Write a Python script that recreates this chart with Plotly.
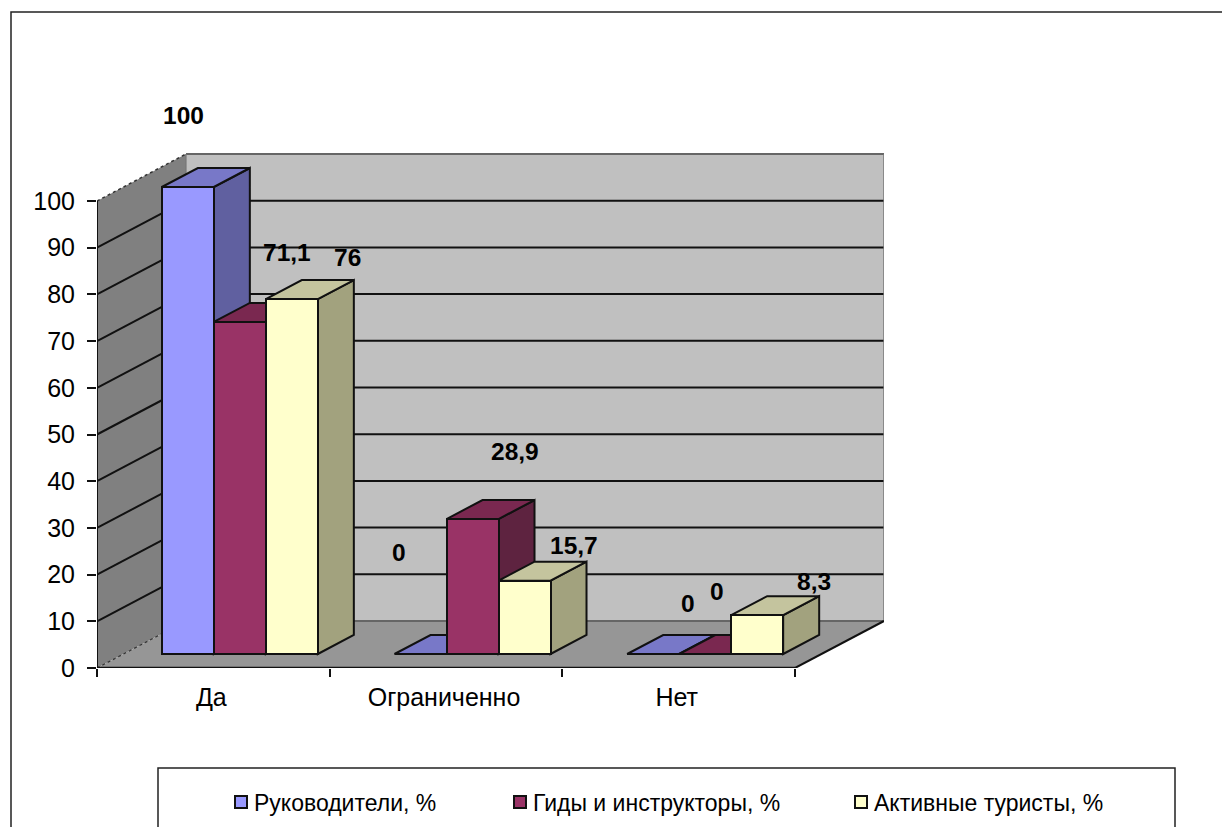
import plotly.graph_objects as go

categories = ["Да", "Ограниченно", "Нет"]
series_names = ["Руководители, %", "Гиды и инструкторы, %", "Активные туристы, %"]
rukovoditeli = [100, 0, 0]
gidy = [71.1, 28.9, 0]
turisty = [76, 15.7, 8.3]
y_ticks = [0, 10, 20, 30, 40, 50, 60, 70, 80, 90, 100]
label_texts = [["100", "0", "0"], ["71,1", "28,9", "0"], ["76", "15,7", "8,3"]]

series_values = [rukovoditeli, gidy, turisty]
front_colors = ["#9999FF", "#993366", "#FFFFCC"]
top_colors = ["#7878C8", "#7A2850", "#C4C49E"]
side_colors = ["#6060A0", "#5E2340", "#A2A27E"]
# pixel nudges of each value label relative to the bar's top front centre
label_shifts = [[(-4, 72), (-22, 102), (35, 51)],
                [(47, 69), (42, 68), (12, 63)],
                [(56, 42), (49, 35), (57, 34)]]

W, H = 1222, 827
L, R, T, B = 97, 884, 153, 668
CAT_PX = 232.67
PX_PER_UNIT = 4.67
x_max = (R - L) / CAT_PX
y_max = (B - T) / PX_PER_UNIT

DX = (R - 795) / CAT_PX          # wall depth in x units
DY = 47 / PX_PER_UNIT            # wall depth in value units
BAR_W = 52 / CAT_PX
BAR_DX = 36 / CAT_PX
BAR_DY = 19 / PX_PER_UNIT
SHIFT_X = 26.5 / CAT_PX          # bar front plane inside the floor
FLOOR = 14 / PX_PER_UNIT
LABEL_NUDGE = -2 / CAT_PX        # category labels sit slightly left of centre


def px(xp):
    return (xp - L) / (R - L)


def py(yp):
    return (B - yp) / (B - T)


def poly(pts, fill, line="rgba(0,0,0,0)", width=0, layer="below"):
    d = "M" + " L".join(f"{a:.4f},{b:.4f}" for a, b in pts) + " Z"
    return dict(type="path", path=d, xref="x", yref="y", fillcolor=fill,
                line=dict(color=line, width=width), layer=layer)


def seg(x0, y0, x1, y1, color="#111111", width=2, dash="solid", xref="x", yref="y"):
    return dict(type="line", x0=x0, y0=y0, x1=x1, y1=y1, xref=xref, yref=yref,
                line=dict(color=color, width=width, dash=dash), layer="below")


shapes = []
# walls and floor
shapes.append(poly([(DX, DY), (3 + DX, DY), (3 + DX, 100 + DY), (DX, 100 + DY)], "#C0C0C0"))
shapes.append(poly([(0, 0), (DX, DY), (DX, 100 + DY), (0, 100)], "#808080"))
shapes.append(poly([(0, 0), (3, 0), (3 + DX, DY), (DX, DY)], "#969696"))
# gridlines
for t in y_ticks:
    if t == 0:
        continue
    if t == 100:
        shapes.append(seg(0, t, DX, t + DY, "#333333", 1.5, "dot"))
        shapes.append(seg(DX, t + DY, 3 + DX, t + DY, "#666666", 2))
    else:
        shapes.append(seg(0, t, DX, t + DY))
        shapes.append(seg(DX, t + DY, 3 + DX, t + DY))
shapes.append(seg(0, 0, DX, DY, "#333333", 1.2, "dot"))
shapes.append(seg(DX, DY, 3 + DX, DY, "#666666", 2))
shapes.append(seg(DX, DY, DX, 100 + DY, "#777777", 1.2))
shapes.append(seg(3 + DX, DY, 3 + DX, 100 + DY, "#777777", 1.5))
shapes.append(seg(0, 0, 0, 100, "#111111", 2))
shapes.append(seg(0, 0, 3, 0, "#111111", 2.5))
shapes.append(seg(3, 0, 3 + DX, DY, "#111111", 2))

traces = []
annotations = []
for s, (name, vals) in enumerate(zip(series_names, series_values)):
    xs = [c + 0.5 + SHIFT_X + (s - 1) * BAR_W for c in range(len(categories))]
    for c, v in enumerate(vals):
        x0 = xs[c] - BAR_W / 2
        x1 = xs[c] + BAR_W / 2
        top = FLOOR + v
        shapes.append(poly([(x1, FLOOR), (x1 + BAR_DX, FLOOR + BAR_DY),
                            (x1 + BAR_DX, top + BAR_DY), (x1, top)],
                           side_colors[s], "#111111", 2))
        shapes.append(poly([(x0, top), (x1, top), (x1 + BAR_DX, top + BAR_DY),
                            (x0 + BAR_DX, top + BAR_DY)],
                           top_colors[s], "#111111", 2))
        annotations.append(dict(
            x=xs[c], y=top, xref="x", yref="y", text=f"<b>{label_texts[s][c]}</b>",
            showarrow=False, xshift=label_shifts[s][c][0], yshift=label_shifts[s][c][1],
            font=dict(family="Liberation Sans", size=24.5, color="black")))
    traces.append(go.Bar(
        x=xs, y=vals, base=[FLOOR] * len(vals), width=BAR_W, name=name,
        marker=dict(color=front_colors[s], line=dict(color="#111111", width=2)),
        legend=["legend", "legend2", "legend3"][s], hoverinfo="skip"))

# outer frame and legend box
frame = dict(type="path", xref="paper", yref="paper",
             path=f"M{px(11)},{py(840)} L{px(11)},{py(12)} L{px(1230)},{py(12)}",
             line=dict(color="#222222", width=1.5), layer="below")
box = dict(type="rect", xref="paper", yref="paper", x0=px(158), x1=px(1175),
           y0=py(840), y1=py(768), fillcolor="white",
           line=dict(color="#222222", width=1.5), layer="below")
shapes = [frame, box] + shapes

fig = go.Figure(traces)


def legend_at(center):
    return dict(x=px(center - 20), y=py(802), xanchor="left", yanchor="middle",
                bgcolor="rgba(0,0,0,0)", borderwidth=0,
                font=dict(family="Liberation Sans", size=23, color="black"))


fig.update_layout(
    width=W, height=H, autosize=False, showlegend=True,
    margin=dict(l=L, r=W - R, t=T, b=H - B, pad=0, autoexpand=False),
    paper_bgcolor="white", plot_bgcolor="rgba(0,0,0,0)",
    barmode="overlay", bargap=0,
    shapes=shapes, annotations=annotations,
    legend=legend_at(241), legend2=legend_at(520), legend3=legend_at(861),
    font=dict(family="Liberation Sans", size=25, color="black"),
    xaxis=dict(range=[0, x_max], tickmode="array",
               tickvals=[i + 0.5 + LABEL_NUDGE for i in range(len(categories))], ticktext=categories,
               ticks="", showgrid=False, zeroline=False, showline=False, ticklabelstandoff=12,
               minor=dict(tickmode="array", tickvals=list(range(len(categories) + 1)),
                          ticks="outside", ticklen=8, tickwidth=2, tickcolor="#111111",
                          showgrid=False),
               tickfont=dict(family="Liberation Sans", size=25)),
    yaxis=dict(range=[0, y_max], tickmode="array", tickvals=y_ticks,
               ticks="outside", ticklen=9, tickwidth=2, tickcolor="#111111",
               showgrid=False, zeroline=False, showline=False, ticklabelstandoff=7,
               tickfont=dict(family="Liberation Sans", size=25)),
)

post = """
document.body.style.margin='0';document.body.style.overflow='hidden';
var st=document.createElement('style');
st.textContent='.legendtext,.legend2text,.legend3text{transform:translateX(-7px);}';
document.head.appendChild(st);
"""
fig.write_html("out.html", post_script=post, config={"displayModeBar": False})
